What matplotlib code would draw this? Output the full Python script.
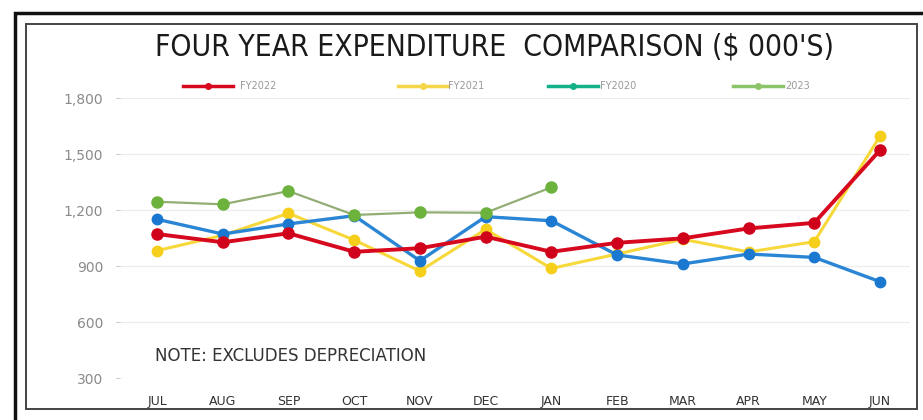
import matplotlib
matplotlib.use("Agg")
import matplotlib.pyplot as plt
from matplotlib.lines import Line2D
from matplotlib.patches import Rectangle

months = ["JUL", "AUG", "SEP", "OCT", "NOV", "DEC", "JAN", "FEB", "MAR", "APR", "MAY", "JUN"]
fy2022 = [1072, 1028, 1076, 977, 996, 1058, 977, 1025, 1049, 1102, 1132, 1521]
fy2021 = [983, 1065, 1183, 1040, 874, 1097, 888, 965, 1044, 976, 1031, 1596]
fy2020 = [1151, 1072, 1126, 1170, 929, 1165, 1143, 960, 912, 965, 947, 817]
fy2023 = [1245, 1231, 1302, 1174, 1188, 1186, 1322]
yticks = [300, 600, 900, 1200, 1500, 1800]

W, H = 923, 420
fig = plt.figure(figsize=(W / 100, H / 100), dpi=100)
fig.patch.set_facecolor("white")

def fx(px):
    return px / W

def fy(py):
    return 1 - py / H

ax = fig.add_axes([fx(120), fy(378.3), fx(910) - fx(120), fy(98) - fy(378.3)])
x = list(range(len(months)))

ax.plot(x, fy2021, color="#f7d83a", lw=2.2, marker="o", ms=7.5, mfc="#f5cf1a", mec="#f5cf1a", zorder=2)
ax.plot(x, fy2020, color="#2a86d4", lw=2.4, marker="o", ms=7.5, mfc="#1a78d0", mec="#1a78d0", zorder=3)
ax.plot(x, fy2022, color="#d7091f", lw=2.8, marker="o", ms=8, mfc="#d0021b", mec="#d0021b", zorder=4)
ax.plot(x[:len(fy2023)], fy2023, color="#93ae74", lw=1.6, marker="o", ms=8, mfc="#6cb23c", mec="#6cb23c", zorder=5)

ax.set_xlim(-0.563, 11.456)
ax.set_ylim(300, 1800)
ax.set_yticks(yticks)
ax.set_yticklabels([f"{v:,}" for v in yticks], color="#8a8a8a", fontsize=10)
ax.set_xticks(x)
ax.set_xticklabels(months, color="#333333", fontsize=9)
ax.tick_params(axis="x", length=0, pad=12)
ax.tick_params(axis="y", length=3, color="#cccccc", pad=9)
ax.grid(axis="y", color="#ececec", lw=0.8)
ax.set_axisbelow(True)
for s in ax.spines.values():
    s.set_visible(False)

ax.text(-0.03, 420, "NOTE: EXCLUDES DEPRECIATION", fontsize=12, color="#333333",
        ha="left", va="center", family="DejaVu Sans")

fig.text(fx(495), fy(47), "FOUR YEAR EXPENDITURE  COMPARISON ($ 000'S)",
         ha="center", va="center", fontsize=21.5, fontstretch="condensed",
         family="DejaVu Sans", color="#1a1a1a")

# legend row above the plot
legend_items = [
    ("FY2022", "#d7091f", 183, 240),
    ("FY2021", "#f5d64a", 398, 448),
    ("FY2020", "#14b08a", 548, 600),
    ("2023", "#8cc46a", 733, 785),
]
for label, color, x0, tx in legend_items:
    fig.add_artist(Line2D([fx(x0), fx(x0 + 50)], [fy(86), fy(86)], color=color, lw=2.5,
                          transform=fig.transFigure))
    fig.add_artist(Line2D([fx(x0 + 25)], [fy(86)], color=color, marker="o", ms=4,
                          transform=fig.transFigure))
    fig.text(fx(tx), fy(86), label, fontsize=7, color="#9a9a9a", va="center", ha="left")

# outer and inner frames
fig.add_artist(Rectangle((fx(15), fy(440)), fx(940) - fx(15), fy(13) - fy(440),
                         fill=False, lw=2.5, ec="#111111", transform=fig.transFigure))
fig.add_artist(Rectangle((fx(26), fy(409)), fx(917) - fx(26), fy(24) - fy(409),
                         fill=False, lw=1.4, ec="#444444", transform=fig.transFigure))

fig.savefig("out.png", dpi=100, facecolor="white")
